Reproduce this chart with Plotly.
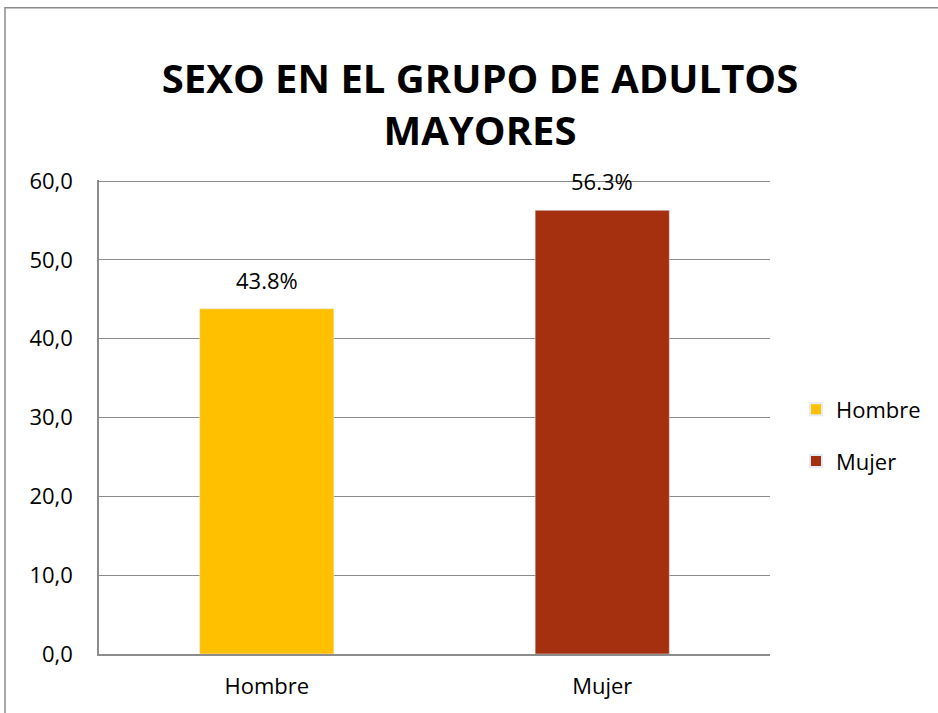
import plotly.graph_objects as go

categories = ["Hombre", "Mujer"]
values = [43.8, 56.3]
labels = ["43.8%", "56.3%"]
colors = ["#FFC000", "#A5300F"]
title_text = "SEXO EN EL GRUPO DE ADULTOS<br>MAYORES"

W, H = 938, 713
L, R, T, B = 99, 770, 181, 654
FONT = "Open Sans"
FS = 22

fig = go.Figure()
for cat, val, lab, col in zip(categories, values, labels, colors):
    fig.add_trace(go.Bar(
        x=[cat], y=[val], name=cat, marker_color=col, legendgroup=cat,
    ))
    fig.add_annotation(x=cat, y=val, text=lab, showarrow=False,
                       yanchor="bottom", yshift=12,
                       font=dict(family=FONT, size=FS, color="#000000"))

pw, ph = R - L, B - T
fig.add_shape(type="rect", xref="paper", yref="paper",
              x0=(5 - L) / pw, x1=(W + 20 - L) / pw,
              y0=(B - (H + 20)) / ph, y1=(B - 9) / ph,
              line=dict(color="#8C8C8C", width=1.5), fillcolor="rgba(0,0,0,0)", layer="below")

fig.update_layout(
    width=W, height=H,
    margin=dict(l=L, r=W - R, t=T - 1, b=H - B),
    paper_bgcolor="white", plot_bgcolor="white",
    separators=",.",
    barmode="overlay",
    bargap=0.6,
    title=dict(text=title_text, xref="container", yref="container",
               x=480 / W, xanchor="center", y=1 - 93 / H, yanchor="middle",
               font=dict(family=FONT, size=40, color="#000000", weight="bold")),
    legend=dict(x=(796 - L) / pw, xanchor="left", y=(B - 436) / ph, yanchor="middle",
                font=dict(family=FONT, size=FS, color="#000000"),
                itemsizing="constant", tracegroupgap=20, bgcolor="rgba(0,0,0,0)"),
    showlegend=True,
)
fig.update_xaxes(showline=True, linecolor="#8C8C8C", linewidth=1.5,
                 tickfont=dict(family=FONT, size=FS, color="#000000"),
                 ticks="", ticklabelstandoff=12)
fig.update_yaxes(range=[0, 60.15], tickvals=[0, 10, 20, 30, 40, 50, 60], tickformat=".1f",
                 showgrid=True, gridcolor="#8C8C8C", gridwidth=1,
                 showline=True, linecolor="#8C8C8C", linewidth=1.5,
                 zeroline=False, ticks="", ticklabelstandoff=20,
                 tickfont=dict(family=FONT, size=FS, color="#000000"))

fig.write_html("out.html", config={"displayModeBar": False},
               post_script="document.body.style.margin='0px';")
